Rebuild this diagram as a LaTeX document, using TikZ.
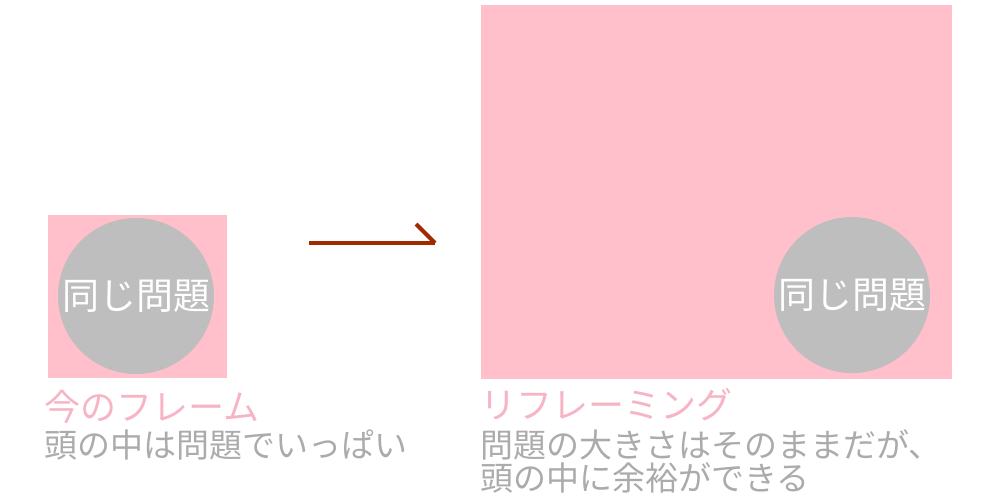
\documentclass[tikz,border=0pt]{standalone}
\usepackage{fontspec}
\setmainfont{Noto Sans CJK JP}
\definecolor{boxpink}{HTML}{FFC0CB}
\definecolor{txtpink}{HTML}{F7B4C4}
\definecolor{circgray}{HTML}{BEBEBE}
\definecolor{txtgray}{HTML}{ABABAB}
\definecolor{arrred}{HTML}{A12A00}
\begin{document}
\begin{tikzpicture}[x=1pt,y=-1pt,
  frame/.style={fill=boxpink,draw=none},
  problem/.style={circle,fill=circgray,draw=none,minimum size=156pt,inner sep=0pt,
    text=white,font=\fontsize{37}{37}\selectfont},
  title/.style={anchor=west,inner sep=0pt,text=txtpink,font=\fontsize{36}{36}\selectfont},
  desc/.style={anchor=west,inner sep=0pt,text=txtgray,align=left,font=\fontsize{33}{33}\selectfont},
  arrowline/.style={draw=arrred,line width=4pt}]
\useasboundingbox (0,0) rectangle (1000,500);
\fill[frame] (48,215) rectangle (227,378);
\fill[frame] (481,5) rectangle (952,379);
\node[problem] (p1) at (136,296) {同じ問題};
\node[problem] (p2) at (852,295) {同じ問題};
\coordinate (a0) at (309,243);
\coordinate (a1) at (435,243);
\coordinate (a2) at (416,224);
\draw[arrowline] (a0) -- (a1);
\draw[arrowline] (a2) -- (a1);
\node[title] (t1) at (44,407) {今のフレーム};
\node[desc] (d1) at (44,445) {頭の中は問題でいっぱい};
\node[title] (t2) at (480,405) {リフレーミング};
\node[desc] (d2) at (480,461) {問題の大きさはそのままだが、\\頭の中に余裕ができる};
\end{tikzpicture}
\end{document}
